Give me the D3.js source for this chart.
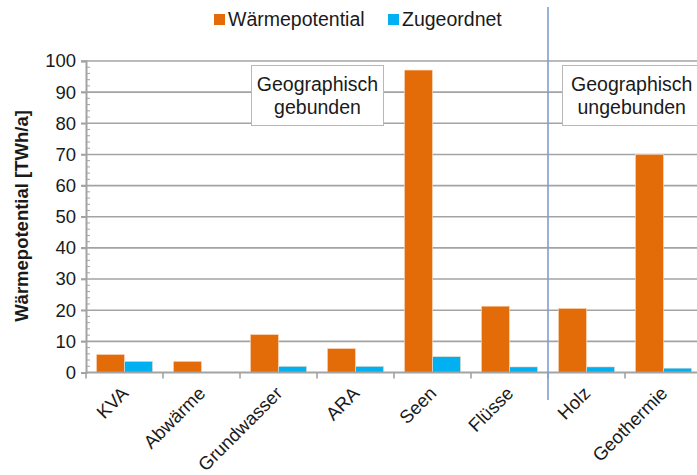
<!DOCTYPE html>
<html lang="de">
<head>
<meta charset="utf-8">
<title>Wärmepotential</title>
<script src="https://d3js.org/d3.v7.min.js"></script>
<style>
  body { margin: 0; background: #fff; }
  svg { display: block; font-family: "Liberation Sans", Arial, sans-serif; }
</style>
</head>
<body>
<script>
// data
var categories = ["KVA", "Abwärme", "Grundwasser", "ARA", "Seen", "Flüsse", "Holz", "Geothermie"];
var waermepotential = [5.8, 3.6, 12.2, 7.7, 97.1, 21.3, 20.6, 70.0];
var zugeordnet = [3.6, 0, 2.0, 2.0, 5.1, 1.8, 1.8, 1.4];
var seriesNames = ["Wärmepotential", "Zugeordnet"];
var seriesColors = ["#e36c09", "#00b0f0"];
var yTicks = [0, 10, 20, 30, 40, 50, 60, 70, 80, 90, 100];

var w = 697, h = 475;
var plotLeft = 86, plotRight = 702, plotTop = 61, plotBottom = 372.5;
var grey = "#a3a3a3";
var textSize = 19.5;

var svg = d3.select("body").append("svg")
    .attr("width", w)
    .attr("height", h);

var x = d3.scaleBand().domain(categories).range([plotLeft, plotRight]);
var inner = d3.scaleBand().domain(seriesNames).range([0, x.bandwidth()])
    .paddingInner(0).paddingOuter(0.37);
var y = d3.scaleLinear().domain([0, 100]).range([plotBottom, plotTop]);

// gridlines
svg.append("g").selectAll("line").data(yTicks.slice(1))
    .enter().append("line")
    .attr("x1", plotLeft - 5).attr("x2", w)
    .attr("y1", function (d) { return y(d); })
    .attr("y2", function (d) { return y(d); })
    .attr("stroke", grey).attr("stroke-width", 1.6);

// minor ticks
var minor = d3.range(0, 100, 2).filter(function (d) { return d % 10 !== 0; });
svg.append("g").selectAll("line").data(minor)
    .enter().append("line")
    .attr("x1", plotLeft).attr("x2", plotLeft + 4)
    .attr("y1", function (d) { return y(d); })
    .attr("y2", function (d) { return y(d); })
    .attr("stroke", grey).attr("stroke-width", 1);

// y axis
var yAxis = svg.append("g")
    .attr("transform", "translate(" + plotLeft + ",0)")
    .call(d3.axisLeft(y).tickValues(yTicks).tickSize(5).tickPadding(5));
yAxis.select(".domain").attr("stroke", grey).attr("stroke-width", 2);
yAxis.selectAll(".tick line").attr("stroke", grey).attr("stroke-width", 1.6);
yAxis.selectAll("text").attr("font-size", 18.5).attr("fill", "#1a1a1a")
    .attr("font-family", "'Liberation Sans', Arial, sans-serif");

// bars
var groups = svg.append("g").selectAll("g").data(categories)
    .enter().append("g")
    .attr("transform", function (d) { return "translate(" + x(d) + ",0)"; });

groups.selectAll("rect")
    .data(function (d, i) {
        return [
            { s: seriesNames[0], v: waermepotential[i], c: seriesColors[0] },
            { s: seriesNames[1], v: zugeordnet[i], c: seriesColors[1] }
        ];
    })
    .enter().append("rect")
    .attr("x", function (d) { return inner(d.s); })
    .attr("width", inner.bandwidth())
    .attr("y", function (d) { return y(d.v); })
    .attr("height", function (d) { return y(0) - y(d.v); })
    .attr("fill", function (d) { return d.c; })
    .attr("stroke", function (d) { return d.v > 0 ? "#fbe0cc" : "none"; })
    .attr("stroke-width", 0.6);

// x axis
var xAxis = svg.append("g")
    .attr("transform", "translate(0," + plotBottom + ")")
    .call(d3.axisBottom(x).tickSize(0).tickFormat(""));
xAxis.select(".domain").attr("stroke", grey).attr("stroke-width", 2)
    .attr("d", "M" + plotLeft + ",0H" + w);
xAxis.selectAll(".tick").remove();

svg.append("g").selectAll("line").data(categories)
    .enter().append("line")
    .attr("x1", function (d) { return x(d); })
    .attr("x2", function (d) { return x(d); })
    .attr("y1", plotBottom).attr("y2", plotBottom + 6)
    .attr("stroke", grey).attr("stroke-width", 1.6);

svg.append("g").selectAll("text").data(categories)
    .enter().append("text")
    .attr("transform", function (d) {
        return "translate(" + (x(d) + x.bandwidth() / 2 + 5) + "," + (plotBottom + 22) + ") rotate(-45)";
    })
    .attr("text-anchor", "end")
    .attr("font-size", 18.5)
    .attr("fill", "#1a1a1a")
    .text(function (d) { return d; });

// divider
var divX = x("Holz");
svg.append("line")
    .attr("x1", divX).attr("x2", divX)
    .attr("y1", 7).attr("y2", 400)
    .attr("stroke", "#7f9fd3").attr("stroke-width", 1.6);

// annotation boxes
function box(x0, x1, lines) {
    var g = svg.append("g");
    g.append("rect")
        .attr("x", x0).attr("y", 65.5)
        .attr("width", x1 - x0).attr("height", 60)
        .attr("fill", "#fff").attr("stroke", "#b8b8b8").attr("stroke-width", 1);
    g.selectAll("text").data(lines).enter().append("text")
        .attr("x", (x0 + x1) / 2)
        .attr("y", function (d, i) { return 91 + i * 23; })
        .attr("text-anchor", "middle")
        .attr("font-size", textSize)
        .attr("fill", "#1a1a1a")
        .text(function (d) { return d; });
}
box(251.5, 383.5, ["Geographisch", "gebunden"]);
box(562.5, 701, ["Geographisch", "ungebunden"]);

// legend
var legendX = [214, 388];
var legend = svg.append("g").selectAll("g").data(seriesNames)
    .enter().append("g")
    .attr("transform", function (d, i) { return "translate(" + legendX[i] + ",14)"; });
legend.append("rect")
    .attr("width", 11).attr("height", 11)
    .attr("fill", function (d, i) { return seriesColors[i]; });
legend.append("text")
    .attr("x", 14).attr("y", 11.5)
    .attr("font-size", textSize)
    .attr("fill", "#1a1a1a")
    .text(function (d) { return d; });

// y label
svg.append("text")
    .attr("transform", "translate(28,216) rotate(-90)")
    .attr("text-anchor", "middle")
    .attr("font-size", 18.5)
    .attr("font-weight", "bold")
    .attr("fill", "#1a1a1a")
    .text("Wärmepotential [TWh/a]");
</script>
</body>
</html>
